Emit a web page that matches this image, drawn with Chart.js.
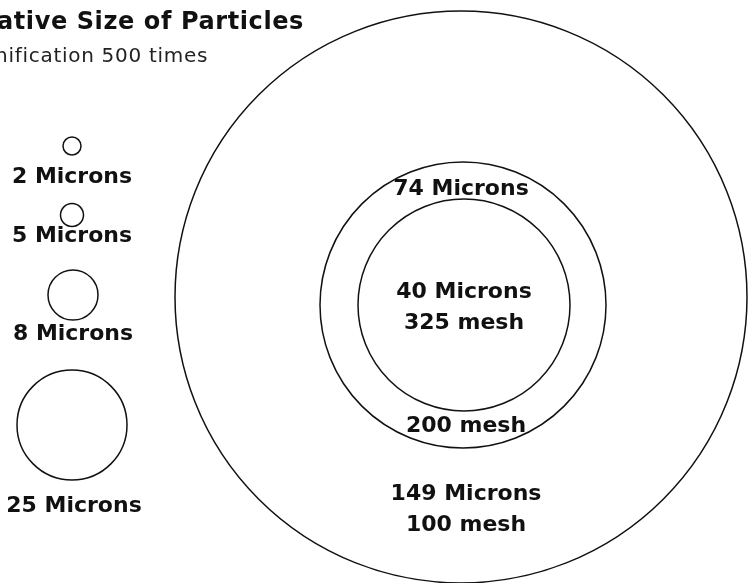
<!DOCTYPE html>
<html>
<head>
<meta charset="utf-8">
<script src="https://cdn.jsdelivr.net/npm/chart.js@4"></script>
<style>
  html, body { margin: 0; padding: 0; background: #fff; }
  #wrap { width: 748px; height: 583px; position: relative; }
</style>
</head>
<body>
<div id="wrap"><canvas id="chartParticles"></canvas></div>
<script>
// particle sizes (microns) and the diagram's own drawing units
const particleSizes = [2, 5, 8, 25, 40, 74, 149];
const drawnDiameter = [18, 23, 50, 110, 212, 286, 572];
const centerX = [72, 72, 73, 72, 464, 463, 461];
const centerY = [146, 215, 295, 425, 305, 305, 297];

// text labels
const labelLines = [
    ['2 Microns'], ['5 Microns'], ['8 Microns'], ['25 Microns'],
    ['40 Microns', '325 mesh'], ['74 Microns'], ['200 mesh'], ['149 Microns', '100 mesh'],
];
const labelX = [72, 72, 73, 74, 464, 461, 466, 466];
const labelY = [183, 242, 340, 512, 298, 195, 432, 500];

const TITLE = 'Relative Size of Particles';
const SUBTITLE = 'Magnification 500 times';

const FONT = '"DejaVu Sans", "Open Sans", sans-serif';

const labelsPlugin = {
    id: 'labels',
    afterDatasetsDraw(chart) {
        const { ctx, scales: { x, y } } = chart;
        ctx.save();
        ctx.fillStyle = '#111';
        ctx.textAlign = 'center';
        ctx.textBaseline = 'alphabetic';
        ctx.font = 'bold 22px ' + FONT;
        labelLines.forEach((lines, i) => {
            lines.forEach((t, j) => {
                ctx.fillText(t, x.getPixelForValue(labelX[i]), y.getPixelForValue(labelY[i] + j * 31));
            });
        });
        // title block, cut off at the left like the source
        ctx.textAlign = 'right';
        ctx.font = 'bold 24px ' + FONT;
        ctx.letterSpacing = '0.6px';
        ctx.fillText(TITLE, x.getPixelForValue(304), y.getPixelForValue(29));
        ctx.font = '20px ' + FONT;
        ctx.letterSpacing = '0.7px';
        ctx.fillStyle = '#222';
        ctx.fillText(SUBTITLE, x.getPixelForValue(208), y.getPixelForValue(62));
        ctx.restore();
    },
};

function radiusFor(ctx) {
    const x = ctx.chart.scales.x;
    const i = ctx.dataIndex;
    return Math.abs(x.getPixelForValue(centerX[i] + drawnDiameter[i] / 2) - x.getPixelForValue(centerX[i]));
}

new Chart(document.getElementById('chartParticles'), {
    type: 'scatter',
    data: {
        datasets: [{
            label: 'Particles',
            data: particleSizes.map((s, i) => ({ x: centerX[i], y: centerY[i], microns: s })),
            pointRadius: radiusFor,
            pointHoverRadius: radiusFor,
            pointBackgroundColor: 'rgba(0,0,0,0)',
            pointBorderColor: '#111',
            pointBorderWidth: 1.5,
            pointHoverBorderWidth: 1.5,
            clip: false,
        }],
    },
    options: {
        responsive: true,
        maintainAspectRatio: false,
        animation: false,
        layout: { padding: 0, autoPadding: false },
        plugins: {
            legend: { display: false },
            tooltip: { enabled: false },
        },
        scales: {
            x: { type: 'linear', min: 0, max: 748, display: false },
            y: { type: 'linear', min: 0, max: 583, reverse: true, display: false },
        },
    },
    plugins: [labelsPlugin],
});
</script>
</body>
</html>
